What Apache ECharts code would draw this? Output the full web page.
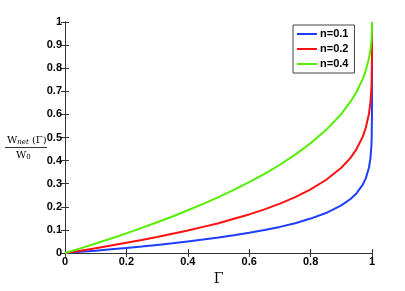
<!DOCTYPE html>
<html><head><meta charset="utf-8">
<script src="https://cdn.jsdelivr.net/npm/echarts@6/dist/echarts.min.js"></script>
<style>html,body{margin:0;padding:0;background:#fff}#c{width:405px;height:291px}</style>
</head><body><div id="c"></div>
<script>
const gamma = [0, 0.05, 0.1, 0.15, 0.2, 0.25, 0.3, 0.35, 0.4, 0.45, 0.5, 0.55, 0.6, 0.65, 0.7, 0.75, 0.8, 0.85, 0.9, 0.93, 0.95, 0.97, 0.98, 0.99, 0.995, 0.998, 0.999, 0.9999, 1];
const n01 = [0, 0.005, 0.010, 0.016, 0.022, 0.028, 0.035, 0.042, 0.050, 0.058, 0.067, 0.077, 0.088, 0.100, 0.113, 0.129, 0.149, 0.173, 0.206, 0.234, 0.259, 0.296, 0.324, 0.369, 0.411, 0.463, 0.499, 0.602, 1];
const n02 = [0, 0.010, 0.021, 0.032, 0.044, 0.056, 0.069, 0.083, 0.097, 0.113, 0.129, 0.148, 0.167, 0.189, 0.214, 0.242, 0.275, 0.316, 0.369, 0.412, 0.451, 0.504, 0.543, 0.602, 0.653, 0.711, 0.749, 0.842, 1];
const n04 = [0, 0.020, 0.041, 0.063, 0.085, 0.109, 0.133, 0.158, 0.185, 0.213, 0.242, 0.273, 0.307, 0.343, 0.382, 0.426, 0.475, 0.532, 0.602, 0.655, 0.698, 0.754, 0.791, 0.842, 0.880, 0.917, 0.937, 0.975, 1];
const seriesNames = ['n=0.1', 'n=0.2', 'n=0.4'];
const colors = ['#1f3dff', '#ff1010', '#55ee00'];

const chart = echarts.init(document.getElementById('c'), null, {renderer: 'canvas'});
const pair = (ys) => gamma.map((g, i) => [g, ys[i]]);
const tickFont = {fontFamily: 'Liberation Sans', fontWeight: 'bold', fontSize: 11, color: '#000'};
const axLine = {show: true, lineStyle: {color: '#333', width: 1}};
chart.setOption({
  animation: false,
  grid: {left: 65, right: 33, top: 22, bottom: 32},
  legend: {
    orient: 'vertical', left: 293, top: 25,
    data: seriesNames.map((nm, i) => ({name: nm, icon: 'rect', itemStyle: {color: colors[i], borderWidth: 0}})),
    itemWidth: 20, itemHeight: 2, itemGap: 3,
    padding: [3, 6, 3, 4],
    borderColor: '#444', borderWidth: 1, backgroundColor: '#fff',
    textStyle: {fontFamily: 'Liberation Sans', fontWeight: 'bold', fontSize: 11, color: '#000', padding: [0, 0, 0, -2], lineHeight: 12}
  },
  xAxis: [{
    type: 'value', min: 0, max: 1, interval: 0.2,
    axisLine: axLine, axisTick: {show: true, inside: true, length: 4, lineStyle: {color: '#333'}},
    splitLine: {show: false},
    axisLabel: Object.assign({margin: 3, formatter: v => String(+v.toFixed(1))}, tickFont),
    name: 'Γ', nameLocation: 'middle', nameGap: 19,
    nameTextStyle: {fontFamily: 'DejaVu Serif', fontSize: 14, color: '#000'}
  }, {
    type: 'value', min: 0, max: 1, interval: 0.2, position: 'top',
    axisLine: axLine, axisTick: {show: true, inside: true, length: 4, lineStyle: {color: '#333'}},
    axisLabel: {show: false}, splitLine: {show: false}
  }],
  yAxis: [{
    type: 'value', min: 0, max: 1, interval: 0.1,
    axisLine: axLine, axisTick: {show: true, inside: true, length: 4, lineStyle: {color: '#333'}},
    splitLine: {show: false},
    axisLabel: Object.assign({margin: 3, formatter: v => String(+v.toFixed(1))}, tickFont)
  }, {
    type: 'value', min: 0, max: 1, interval: 0.1, position: 'right',
    axisLine: axLine, axisTick: {show: true, inside: true, length: 4, lineStyle: {color: '#333'}},
    axisLabel: {show: false}, splitLine: {show: false}
  }],
  graphic: [
    {type: 'text', left: 7, top: 135, style: {
      text: '{a|W}{b|net}{a| (Γ)}', rich: {
        a: {fontFamily: 'DejaVu Serif', fontSize: 10, fill: '#000'},
        b: {fontFamily: 'DejaVu Serif', fontStyle: 'italic', fontSize: 7, fill: '#000', padding: [4, 0, 0, 0]}
      }}},
    {type: 'line', shape: {x1: 5, y1: 147.5, x2: 47, y2: 147.5}, style: {stroke: '#000', lineWidth: 0.8}},
    {type: 'text', left: 16, top: 150, style: {
      text: '{a|W}{b|0}', rich: {
        a: {fontFamily: 'DejaVu Serif', fontSize: 10, fill: '#000'},
        b: {fontFamily: 'DejaVu Serif', fontSize: 7, fill: '#000', padding: [4, 0, 0, 0]}
      }}}
  ],
  series: [n01, n02, n04].map((ys, i) => ({
    name: seriesNames[i], type: 'line', data: pair(ys), showSymbol: false, symbol: 'none',
    smooth: false, lineStyle: {color: colors[i], width: 2}, itemStyle: {color: colors[i]}
  }))
});
</script></body></html>
